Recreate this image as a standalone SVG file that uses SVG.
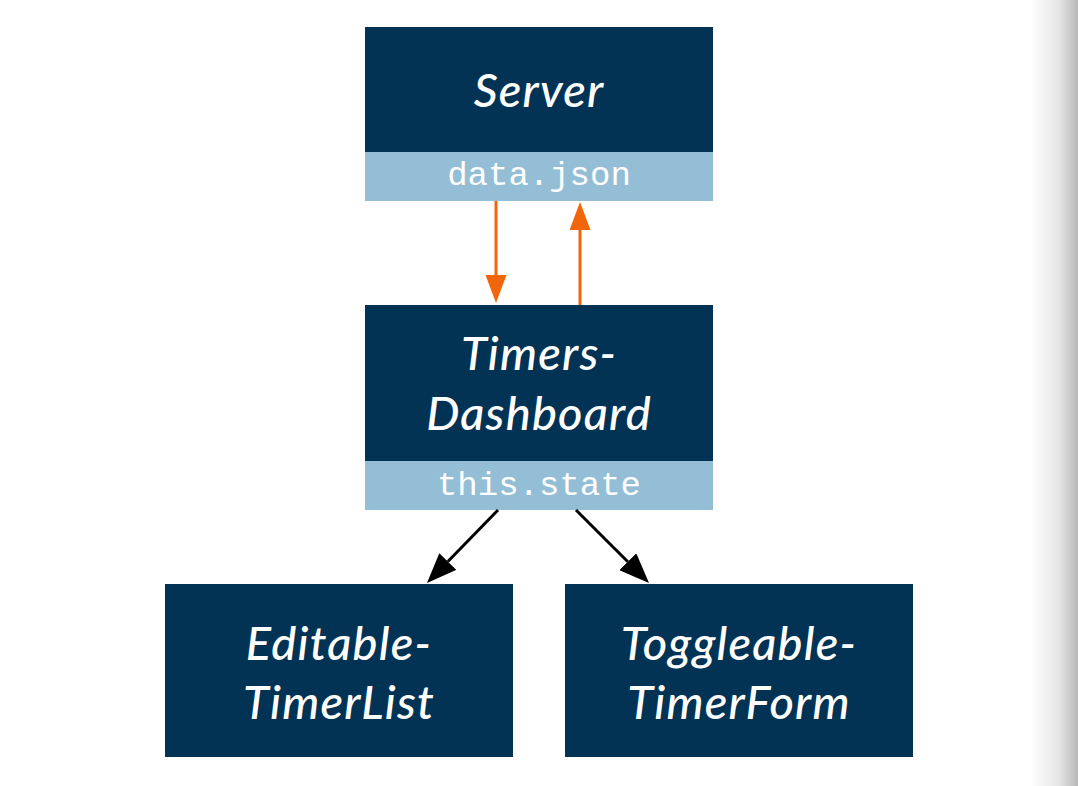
<svg xmlns="http://www.w3.org/2000/svg" width="1078" height="786" viewBox="0 0 1078 786">
<defs>
<style>
.box{fill:#023354}
.band{fill:#93BED6}
.title{font-family:Lato,"Open Sans","Liberation Sans",sans-serif;font-style:italic;font-weight:500;font-size:47px;letter-spacing:1.2px;fill:#ffffff;text-anchor:middle}
.mono{font-family:"Liberation Mono","DejaVu Sans Mono",monospace;font-size:34px;fill:#ffffff;text-anchor:middle}
.orange{stroke:#F2650A;stroke-width:3;fill:none}
.black{stroke:#000000;stroke-width:3;fill:none}
</style>
<linearGradient id="edge" x1="0" y1="0" x2="1" y2="0">
<stop offset="0" stop-color="#ffffff"/>
<stop offset="0.6" stop-color="#e6e6e6"/>
<stop offset="1" stop-color="#b8b8b8"/>
</linearGradient>
<marker id="ah-o" viewBox="0 0 28 21" refX="0" refY="10.5" markerWidth="28" markerHeight="21" markerUnits="userSpaceOnUse" orient="auto">
<path d="M0,0 L28,10.5 L0,21 Z" fill="#F2650A"/>
</marker>
<marker id="ah-b" viewBox="0 0 30 24" refX="0" refY="12" markerWidth="30" markerHeight="24" markerUnits="userSpaceOnUse" orient="auto">
<path d="M0,0 L30,12 L0,24 Z" fill="#000000"/>
</marker>
</defs>
<rect x="0" y="0" width="1078" height="786" fill="#ffffff"/>
<rect x="1030" y="0" width="48" height="786" fill="url(#edge)"/>

<g id="server">
<rect class="box" x="365" y="27" width="348" height="125"/>
<rect class="band" x="365" y="152" width="348" height="49"/>
<text class="title" x="539" y="107">Server</text>
<text class="mono" x="539" y="185">data.json</text>
</g>

<g id="timers-dashboard">
<rect class="box" x="365" y="305" width="348" height="156"/>
<rect class="band" x="365" y="461" width="348" height="49"/>
<text class="title" x="539" y="370">Timers-</text>
<text class="title" x="539" y="430">Dashboard</text>
<text class="mono" x="539" y="495">this.state</text>
</g>

<g id="editable-timerlist">
<rect class="box" x="165" y="584" width="348" height="173"/>
<text class="title" x="339" y="660">Editable-</text>
<text class="title" x="339" y="719">TimerList</text>
</g>

<g id="toggleable-timerform">
<rect class="box" x="565" y="584" width="348" height="173"/>
<text class="title" x="739" y="660">Toggleable-</text>
<text class="title" x="739" y="719">TimerForm</text>
</g>

<g id="connectors">
<path class="orange" d="M496,201 L496,275" marker-end="url(#ah-o)"/>
<path class="orange" d="M580,305 L580,230" marker-end="url(#ah-o)"/>
<path class="black" d="M498,510 L447.9,561.5" marker-end="url(#ah-b)"/>
<path class="black" d="M576,510 L627.8,561.8" marker-end="url(#ah-b)"/>
</g>
</svg>
